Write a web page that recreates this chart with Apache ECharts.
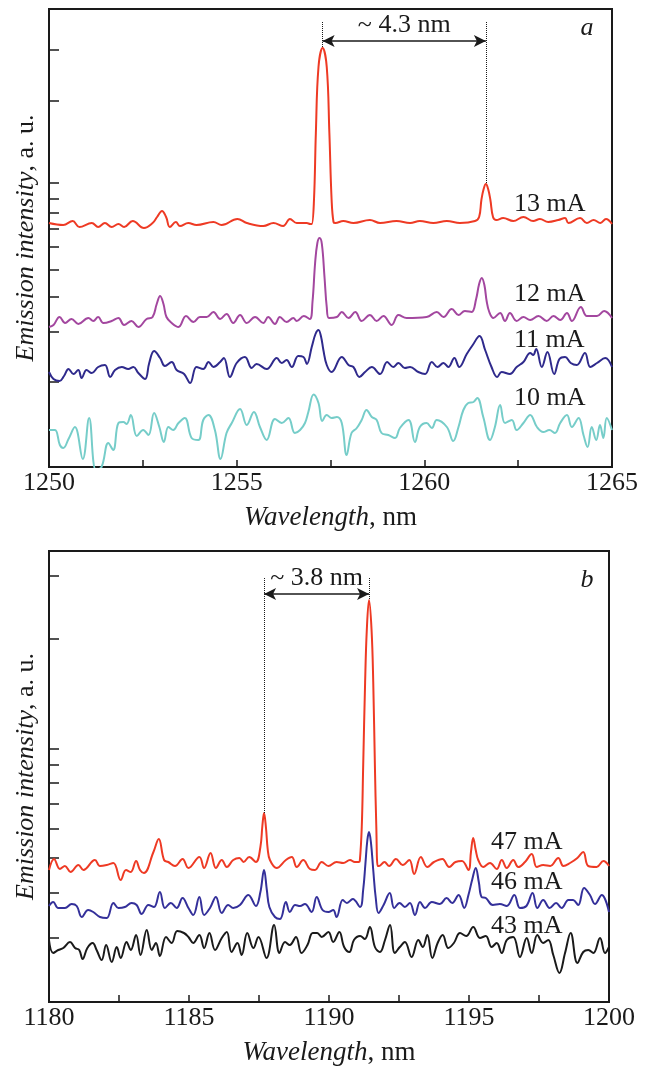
<!DOCTYPE html>
<html>
<head>
<meta charset="utf-8">
<script src="https://cdn.jsdelivr.net/npm/echarts@6/dist/echarts.min.js"></script>
<style>
  html, body { margin: 0; background: #fff; }
  #chart { width: 650px; height: 1071px; }
</style>
</head>
<body>
<div id="chart"></div>
<script>
const FONT = '"Liberation Serif", "Times New Roman", serif';
const INK = "#1a1a1a";

// panel a: wavelength (nm) vs intensity (a.u.)
const curve13mA = [[1250.0,24.4],[1250.38,24.2],[1250.63,24.6],[1250.81,24.0],[1251.14,24.4],[1251.31,24.0],[1251.49,24.4],[1251.67,24.0],[1251.85,24.3],[1252.0,24.0],[1252.23,24.6],[1252.53,23.9],[1252.76,24.4],[1252.88,25.0],[1253.01,25.6],[1253.12,25.0],[1253.22,24.0],[1253.38,24.5],[1253.49,24.1],[1253.71,24.4],[1253.93,24.2],[1254.38,24.5],[1254.6,24.2],[1255.02,24.8],[1255.27,24.4],[1255.71,24.1],[1255.98,24.4],[1256.24,24.1],[1256.42,24.8],[1256.6,24.4],[1256.87,24.4],[1256.96,24.3],[1257.0,24.3],[1257.06,26.7],[1257.11,33.4],[1257.18,40.0],[1257.29,41.9],[1257.4,40.0],[1257.47,33.4],[1257.53,26.7],[1257.58,24.5],[1257.63,24.4],[1257.84,24.6],[1258.11,24.4],[1258.55,24.7],[1258.82,24.4],[1259.26,24.6],[1259.62,24.4],[1259.88,24.6],[1260.24,24.4],[1260.6,24.6],[1260.95,24.4],[1261.35,24.6],[1261.46,25.0],[1261.52,26.7],[1261.58,27.8],[1261.64,28.3],[1261.7,27.8],[1261.76,26.7],[1261.83,25.0],[1261.92,24.7],[1262.1,24.9],[1262.37,24.6],[1262.64,25.0],[1262.9,24.6],[1263.08,24.8],[1263.3,24.5],[1263.57,24.7],[1263.75,24.9],[1263.84,24.4],[1264.15,24.9],[1264.33,24.4],[1264.51,24.7],[1264.69,24.4],[1264.84,24.8],[1265.0,24.3]];
const curve12mA = [[1250.0,14.0],[1250.12,14.2],[1250.28,15.0],[1250.43,14.4],[1250.6,14.8],[1250.78,14.3],[1251.05,14.9],[1251.18,14.6],[1251.31,15.0],[1251.45,14.4],[1251.67,14.6],[1251.85,14.9],[1252.0,14.2],[1252.2,14.6],[1252.38,14.0],[1252.6,14.8],[1252.76,15.0],[1252.87,16.3],[1252.96,17.1],[1253.05,16.3],[1253.13,15.0],[1253.27,14.4],[1253.45,14.0],[1253.65,15.1],[1253.85,14.5],[1254.02,15.0],[1254.2,15.0],[1254.38,15.5],[1254.56,14.8],[1254.73,15.3],[1254.91,14.4],[1255.09,15.2],[1255.27,14.4],[1255.49,15.0],[1255.71,14.4],[1255.84,15.0],[1256.02,14.3],[1256.15,15.0],[1256.33,14.5],[1256.51,14.9],[1256.6,14.6],[1256.79,15.1],[1256.95,14.8],[1257.02,16.5],[1257.09,20.4],[1257.15,22.4],[1257.21,22.9],[1257.27,22.3],[1257.34,19.0],[1257.4,16.0],[1257.46,14.9],[1257.67,15.0],[1257.8,15.5],[1257.98,14.9],[1258.16,15.5],[1258.33,14.6],[1258.55,15.2],[1258.73,14.6],[1258.91,15.1],[1259.13,14.2],[1259.31,15.2],[1259.53,14.9],[1260.06,15.0],[1260.33,15.5],[1260.51,15.0],[1260.73,15.8],[1260.91,15.2],[1261.08,15.6],[1261.26,15.5],[1261.38,16.8],[1261.46,18.3],[1261.53,18.9],[1261.6,18.2],[1261.66,16.6],[1261.73,15.5],[1261.84,14.9],[1262.02,15.4],[1262.15,14.6],[1262.28,15.4],[1262.46,14.6],[1262.64,15.0],[1262.82,14.7],[1263.04,15.1],[1263.26,14.6],[1263.44,15.1],[1263.62,14.7],[1263.8,15.4],[1263.93,14.6],[1264.17,16.0],[1264.33,15.1],[1264.6,15.1],[1264.79,15.6],[1265.0,14.9]];
const curve11mA = [[1250.0,9.5],[1250.12,8.8],[1250.28,8.6],[1250.4,9.1],[1250.52,9.8],[1250.65,9.3],[1250.78,9.7],[1250.87,8.9],[1251.0,9.7],[1251.14,9.4],[1251.31,10.0],[1251.49,10.2],[1251.63,9.0],[1251.76,9.7],[1251.94,10.0],[1252.11,9.8],[1252.25,10.0],[1252.38,9.4],[1252.56,8.8],[1252.67,10.4],[1252.8,11.6],[1252.96,10.9],[1253.09,10.1],[1253.27,10.5],[1253.4,9.7],[1253.6,9.3],[1253.76,8.4],[1253.93,10.0],[1254.11,9.8],[1254.25,10.5],[1254.38,10.0],[1254.56,10.5],[1254.66,10.9],[1254.82,9.0],[1255.0,10.4],[1255.22,11.0],[1255.4,9.9],[1255.53,10.3],[1255.8,9.8],[1256.07,10.9],[1256.2,10.4],[1256.33,10.7],[1256.47,10.0],[1256.64,11.1],[1256.78,11.0],[1256.87,10.3],[1257.0,12.0],[1257.1,13.3],[1257.18,13.7],[1257.25,13.0],[1257.31,11.7],[1257.4,10.2],[1257.53,9.5],[1257.8,11.0],[1257.98,10.2],[1258.11,10.0],[1258.27,9.0],[1258.42,9.5],[1258.6,10.0],[1258.82,9.3],[1259.01,10.5],[1259.17,10.0],[1259.31,10.4],[1259.48,9.9],[1259.62,10.0],[1259.84,9.5],[1260.02,9.3],[1260.2,10.5],[1260.35,10.0],[1260.51,10.4],[1260.64,10.0],[1260.8,10.9],[1260.93,10.0],[1261.13,11.3],[1261.29,12.2],[1261.47,13.1],[1261.62,11.7],[1261.79,10.0],[1261.94,9.0],[1262.06,9.5],[1262.28,9.3],[1262.46,10.0],[1262.64,10.5],[1262.82,11.4],[1262.9,11.2],[1262.98,11.8],[1263.13,10.0],[1263.28,11.5],[1263.46,9.3],[1263.6,10.8],[1263.75,11.0],[1263.9,10.4],[1264.06,10.2],[1264.28,11.4],[1264.42,10.0],[1264.6,10.4],[1264.82,10.9],[1265.0,10.0]];
const curve10mA = [[1250.0,3.7],[1250.16,3.7],[1250.29,2.2],[1250.38,1.9],[1250.52,2.8],[1250.69,4.0],[1250.9,0.8],[1251.07,4.9],[1251.25,-0.3],[1251.4,0.0],[1251.58,2.4],[1251.71,1.7],[1251.85,4.4],[1251.98,4.5],[1252.07,4.3],[1252.18,5.2],[1252.34,3.1],[1252.51,3.7],[1252.65,3.2],[1252.8,5.4],[1252.94,4.0],[1253.06,2.5],[1253.18,4.0],[1253.31,3.7],[1253.45,4.4],[1253.62,4.9],[1253.8,2.9],[1253.98,2.7],[1254.11,4.7],[1254.25,5.2],[1254.42,3.7],[1254.57,0.8],[1254.73,3.4],[1254.87,4.4],[1255.09,5.8],[1255.27,4.2],[1255.46,5.5],[1255.62,4.0],[1255.8,2.7],[1256.02,4.8],[1256.2,4.4],[1256.38,4.9],[1256.55,3.4],[1256.69,3.7],[1256.82,4.4],[1256.91,5.5],[1257.05,7.25],[1257.18,6.4],[1257.28,4.6],[1257.4,5.2],[1257.53,4.9],[1257.67,5.0],[1257.8,4.4],[1257.93,1.2],[1258.06,3.4],[1258.2,3.9],[1258.33,4.7],[1258.46,5.7],[1258.6,5.0],[1258.73,4.7],[1258.86,3.4],[1259.04,3.2],[1259.22,2.9],[1259.35,3.9],[1259.58,4.7],[1259.75,2.5],[1259.88,4.0],[1260.06,4.4],[1260.2,3.9],[1260.33,4.7],[1260.6,4.0],[1260.77,2.6],[1260.91,4.0],[1261.04,5.7],[1261.17,6.4],[1261.31,6.5],[1261.41,6.9],[1261.57,5.0],[1261.75,2.7],[1261.88,4.0],[1262.02,6.2],[1262.15,4.4],[1262.33,4.7],[1262.46,3.7],[1262.64,4.4],[1262.82,5.2],[1263.0,4.0],[1263.17,3.5],[1263.33,3.7],[1263.48,3.4],[1263.62,4.4],[1263.8,5.2],[1263.93,4.0],[1264.11,4.9],[1264.24,3.2],[1264.35,2.0],[1264.46,4.0],[1264.58,2.7],[1264.68,4.2],[1264.77,2.9],[1264.86,4.9],[1265.0,3.7]];

// panel b
const curve47mA = [[1180.0,13.2],[1180.18,14.3],[1180.39,13.3],[1180.57,13.6],[1180.77,13.0],[1181.05,13.7],[1181.23,13.2],[1181.64,14.2],[1181.82,13.6],[1182.06,13.7],[1182.3,13.9],[1182.56,12.2],[1182.75,13.2],[1182.92,13.0],[1183.11,14.1],[1183.25,13.2],[1183.39,12.9],[1183.73,15.0],[1183.92,16.3],[1184.11,14.2],[1184.26,14.0],[1184.5,13.6],[1184.77,14.3],[1184.98,13.4],[1185.37,14.5],[1185.54,13.4],[1185.77,14.9],[1185.96,13.4],[1186.17,14.2],[1186.35,13.5],[1186.58,14.2],[1186.8,14.4],[1186.95,14.0],[1187.15,14.5],[1187.39,14.0],[1187.55,15.5],[1187.62,17.6],[1187.68,18.9],[1187.75,17.4],[1187.81,15.3],[1187.89,14.2],[1188.13,13.4],[1188.46,14.2],[1188.67,14.5],[1188.85,13.5],[1189.08,14.2],[1189.32,13.3],[1189.5,13.2],[1189.74,14.0],[1189.98,13.6],[1190.27,14.0],[1190.51,13.9],[1190.75,14.2],[1190.92,14.0],[1191.06,14.0],[1191.1,14.1],[1191.17,17.5],[1191.22,23.5],[1191.29,32.0],[1191.35,37.2],[1191.43,40.2],[1191.52,37.2],[1191.58,32.0],[1191.64,23.5],[1191.69,17.5],[1191.74,13.6],[1191.79,13.6],[1191.98,14.0],[1192.15,13.6],[1192.39,14.3],[1192.63,13.7],[1192.87,14.2],[1193.04,12.8],[1193.28,14.5],[1193.51,13.5],[1193.75,14.0],[1194.05,14.3],[1194.29,13.5],[1194.52,14.0],[1194.75,14.1],[1194.98,13.2],[1195.07,15.0],[1195.15,16.4],[1195.24,15.2],[1195.33,14.2],[1195.51,13.5],[1195.75,13.9],[1195.99,13.3],[1196.17,14.2],[1196.35,13.4],[1196.58,14.2],[1196.76,13.5],[1197.0,14.0],[1197.24,14.8],[1197.42,13.5],[1197.65,13.7],[1197.9,13.6],[1198.19,14.4],[1198.37,13.6],[1198.61,13.9],[1198.87,14.4],[1199.08,15.0],[1199.26,13.6],[1199.56,13.5],[1199.8,14.1],[1200.0,13.6]];
const curve46mA = [[1180.0,9.6],[1180.15,10.0],[1180.33,9.4],[1180.57,9.4],[1180.81,9.8],[1180.99,9.6],[1181.17,8.5],[1181.4,9.2],[1181.58,9.0],[1181.82,8.5],[1182.06,8.4],[1182.3,9.9],[1182.48,9.4],[1182.71,9.5],[1182.95,9.9],[1183.13,9.7],[1183.31,8.8],[1183.55,9.7],[1183.75,9.5],[1183.96,11.0],[1184.14,9.4],[1184.35,9.9],[1184.56,9.4],[1184.77,10.4],[1184.98,9.4],[1185.15,8.7],[1185.37,10.5],[1185.54,8.7],[1185.75,9.4],[1185.96,10.5],[1186.17,8.9],[1186.4,9.7],[1186.58,9.4],[1186.82,9.7],[1187.12,10.7],[1187.39,9.6],[1187.55,11.0],[1187.68,13.2],[1187.78,11.2],[1187.87,9.5],[1188.07,8.5],[1188.25,8.3],[1188.46,10.0],[1188.6,9.0],[1188.79,9.7],[1188.97,9.6],[1189.14,9.8],[1189.38,9.0],[1189.56,10.5],[1189.77,9.2],[1189.98,9.0],[1190.15,9.2],[1190.27,8.5],[1190.49,10.2],[1190.64,9.9],[1190.85,10.3],[1191.11,9.5],[1191.22,11.2],[1191.3,13.8],[1191.37,16.2],[1191.43,17.0],[1191.5,15.9],[1191.58,13.2],[1191.67,10.4],[1191.77,8.9],[1191.95,9.7],[1192.17,10.9],[1192.33,9.4],[1192.52,9.9],[1192.71,9.5],[1192.89,9.9],[1193.07,8.7],[1193.25,10.0],[1193.43,9.4],[1193.67,10.0],[1193.96,9.8],[1194.2,10.4],[1194.4,9.9],[1194.63,10.7],[1194.83,9.4],[1194.98,10.7],[1195.12,12.3],[1195.24,13.4],[1195.35,12.0],[1195.45,10.5],[1195.6,10.4],[1195.85,9.7],[1196.1,9.8],[1196.35,9.6],[1196.62,10.7],[1196.82,9.4],[1197.05,9.6],[1197.27,10.9],[1197.44,9.4],[1197.65,10.2],[1197.88,9.4],[1198.11,9.9],[1198.31,9.4],[1198.55,10.2],[1198.72,10.2],[1198.9,9.7],[1199.11,11.4],[1199.32,10.7],[1199.5,9.8],[1199.74,10.7],[1200.0,9.0]];
const curve43mA = [[1180.0,6.2],[1180.15,4.9],[1180.33,5.2],[1180.51,5.4],[1180.75,6.0],[1180.93,5.4],[1181.08,5.2],[1181.2,4.3],[1181.37,5.4],[1181.56,5.9],[1181.7,5.2],[1181.88,4.2],[1182.04,5.7],[1182.24,4.0],[1182.42,5.5],[1182.56,4.4],[1182.77,6.0],[1182.92,5.2],[1183.11,6.7],[1183.27,4.7],[1183.49,7.2],[1183.67,5.2],[1183.82,5.9],[1183.96,4.6],[1184.18,6.5],[1184.38,5.9],[1184.58,7.1],[1184.82,6.9],[1184.98,6.5],[1185.15,5.9],[1185.37,6.7],[1185.54,5.4],[1185.73,6.9],[1185.93,5.2],[1186.17,6.4],[1186.35,7.0],[1186.52,5.0],[1186.73,5.9],[1186.88,4.7],[1187.08,6.9],[1187.3,5.4],[1187.48,6.5],[1187.77,4.4],[1188.04,7.7],[1188.23,4.9],[1188.43,6.0],[1188.6,5.7],[1188.82,6.5],[1189.02,4.9],[1189.23,5.7],[1189.42,6.9],[1189.58,6.9],[1189.74,6.5],[1189.98,7.0],[1190.15,6.0],[1190.37,7.0],[1190.54,5.5],[1190.73,5.0],[1190.89,6.2],[1191.11,6.6],[1191.28,6.3],[1191.46,7.5],[1191.64,5.5],[1191.82,5.0],[1192.0,6.2],[1192.18,7.7],[1192.35,4.9],[1192.53,5.5],[1192.71,6.0],[1192.95,4.5],[1193.19,6.2],[1193.35,5.5],[1193.51,6.7],[1193.69,4.4],[1193.88,5.9],[1194.06,6.7],[1194.26,5.4],[1194.46,5.9],[1194.68,6.9],[1194.9,6.6],[1195.15,7.5],[1195.39,6.4],[1195.6,6.6],[1195.81,5.5],[1195.99,5.9],[1196.17,4.9],[1196.35,6.2],[1196.58,6.5],[1196.82,4.5],[1197.06,6.4],[1197.24,4.9],[1197.44,6.7],[1197.65,5.9],[1197.83,6.2],[1198.01,4.7],[1198.23,2.9],[1198.43,4.9],[1198.63,6.9],[1198.87,3.9],[1199.08,5.0],[1199.26,5.2],[1199.44,4.9],[1199.68,6.4],[1199.86,4.9],[1200.0,5.5]];

// irregular tick marks on the intensity axes
const yTicksA = [8.5, 13.5, 17.0, 19.7, 22.0, 23.8, 25.4, 26.8, 28.4, 36.6, 41.7];
const yTicksB = [6.4, 10.9, 14.4, 17.3, 19.8, 21.9, 23.7, 25.3, 36.3, 42.6];

// mode spacing annotations: [peak 1, peak 2], dotted top, arrow level
const spacingA = { peaks: [1257.29, 1261.64], top: 44.5, arrow: 42.6, text: "~ 4.3 nm" };
const spacingB = { peaks: [1187.68, 1191.43], top: 42.4, arrow: 40.8, text: "~ 3.8 nm" };

const chart = echarts.init(document.getElementById("chart"));

function peakNear(data, x) {
  return data.reduce((best, p) => (Math.abs(p[0] - x) < Math.abs(best[0] - x) ? p : best));
}

function spacingMarks(data, s) {
  const p1 = peakNear(data, s.peaks[0]);
  const p2 = peakNear(data, s.peaks[1]);
  return {
    silent: true,
    animation: false,
    symbol: "none",
    emphasis: { disabled: true },
    label: { show: false },
    lineStyle: { type: "dotted", color: INK, width: 1 },
    data: [
      [{ coord: [p1[0], s.top] }, { coord: [p1[0], p1[1]] }],
      [{ coord: [p2[0], s.top] }, { coord: [p2[0], p2[1]] }],
      [
        {
          coord: [p1[0], s.arrow], symbol: "arrow", symbolSize: [9, 12],
          lineStyle: { type: "solid", width: 1.5, color: INK },
          label: {
            show: true, position: "insideMiddleTop", distance: 3, formatter: s.text,
            fontFamily: FONT, fontSize: 26, color: INK,
          },
        },
        { coord: [p2[0], s.arrow], symbol: "arrow", symbolSize: [9, 12] },
      ],
    ],
  };
}

function xAxis(index, min, max) {
  return {
    type: "value", gridIndex: index, min, max, interval: 2.5,
    name: "{i|Wavelength}, nm", nameLocation: "middle", nameGap: 37,
    nameTextStyle: {
      fontFamily: FONT, fontSize: 27, color: INK,
      rich: { i: { fontFamily: FONT, fontSize: 27, fontStyle: "italic", color: INK } },
    },
    axisLine: { show: false },
    axisTick: { inside: true, length: 7, lineStyle: { color: INK, width: 1.5 } },
    axisLabel: {
      margin: 3, fontFamily: FONT, fontSize: 26, color: INK,
      showMinLabel: true, showMaxLabel: true,
      formatter: (v) => (v % 5 === 0 ? String(v) : ""),
    },
    splitLine: { show: false },
  };
}

function yAxis(index, max, ticks) {
  return {
    type: "value", gridIndex: index, min: 0, max,
    name: "{i|Emission intensity}, a. u.", nameLocation: "middle", nameGap: 10,
    nameTextStyle: {
      fontFamily: FONT, fontSize: 26, color: INK,
      rich: { i: { fontFamily: FONT, fontSize: 26, fontStyle: "italic", color: INK } },
    },
    axisLine: { show: false },
    axisTick: { inside: true, length: 10, customValues: ticks, lineStyle: { color: INK, width: 1.5 } },
    axisLabel: { show: false },
    splitLine: { show: false },
  };
}

function curve(name, data, color, panel, extra) {
  return Object.assign({
    name, type: "line", data, xAxisIndex: panel, yAxisIndex: panel,
    showSymbol: false, smooth: 0.4,
    lineStyle: { color, width: 2 }, itemStyle: { color },
    silent: true,
  }, extra || {});
}

function label(text, x, y, italic) {
  return {
    type: "text", x, y, silent: true,
    style: {
      text, fill: INK, font: `${italic ? "italic " : ""}26px ${FONT}`,
      textAlign: italic ? "center" : "left", textVerticalAlign: "middle",
    },
  };
}

chart.setOption({
  animation: false,
  grid: [
    { left: 49, top: 9, width: 563, height: 458, show: true, borderColor: INK, borderWidth: 2 },
    { left: 49, top: 551, width: 560, height: 451, show: true, borderColor: INK, borderWidth: 2 },
  ],
  xAxis: [xAxis(0, 1250, 1265), xAxis(1, 1180, 1200)],
  yAxis: [yAxis(0, 45.8, yTicksA), yAxis(1, 45.1, yTicksB)],
  series: [
    curve("13 mA", curve13mA, "#ee3a24", 0, { markLine: spacingMarks(curve13mA, spacingA) }),
    curve("12 mA", curve12mA, "#a3479f", 0),
    curve("11 mA", curve11mA, "#2f2a8c", 0),
    curve("10 mA", curve10mA, "#76cdc9", 0),
    curve("47 mA", curve47mA, "#ee3a24", 1, { markLine: spacingMarks(curve47mA, spacingB) }),
    curve("46 mA", curve46mA, "#34309a", 1),
    curve("43 mA", curve43mA, "#1a1a1a", 1),
  ],
  graphic: [
    label("a", 587, 28, true),
    label("13 mA", 514, 204),
    label("12 mA", 514, 294),
    label("11 mA", 514, 340),
    label("10 mA", 514, 398),
    label("b", 587, 580, true),
    label("47 mA", 491, 842),
    label("46 mA", 491, 882),
    label("43 mA", 491, 926),
  ],
});
</script>
</body>
</html>
